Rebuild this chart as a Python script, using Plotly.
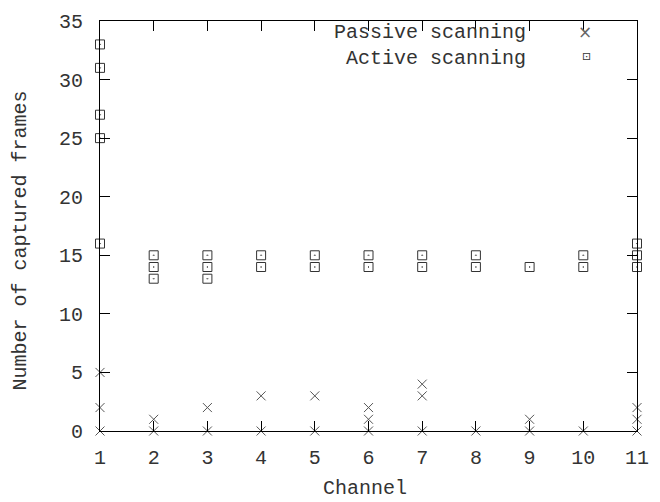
import plotly.graph_objects as go

# Frames captured per channel, one entry per observation
passive_channel = [1, 1, 1, 2, 2, 3, 3, 4, 4, 5, 5, 6, 6, 6, 7, 7, 7, 8, 9, 9, 10, 11, 11, 11]
passive_frames = [0, 2, 5, 0, 1, 0, 2, 0, 3, 0, 3, 0, 1, 2, 0, 3, 4, 0, 0, 1, 0, 0, 1, 2]

active_channel = [1, 1, 1, 1, 1, 2, 2, 2, 3, 3, 3, 4, 4, 5, 5, 6, 6, 7, 7, 8, 8, 9, 10, 10, 11, 11, 11]
active_frames = [16, 25, 27, 31, 33, 13, 14, 15, 13, 14, 15, 14, 15, 14, 15, 14, 15, 14, 15, 14, 15, 14, 14, 15, 14, 15, 16]

series_names = ["Passive scanning", "Active scanning"]

x_ticks = list(range(1, 12))
y_ticks = list(range(0, 36, 5))

FONT = "Liberation Mono"
FONT_SIZE = 20
TEXT_COLOR = "#333"

fig = go.Figure()

fig.add_trace(go.Scatter(
    x=passive_channel, y=passive_frames, mode="markers",
    name=series_names[0], showlegend=False, cliponaxis=False,
    marker=dict(symbol="x-thin-open", size=9, color="#555",
                line=dict(width=1, color="#555")),
))
fig.add_trace(go.Scatter(
    x=active_channel, y=active_frames, mode="markers",
    name=series_names[1], showlegend=False, cliponaxis=False,
    marker=dict(symbol="square-open-dot", size=9, color="#333",
                line=dict(width=1, color="#333")),
))

axis_common = dict(
    showgrid=False, zeroline=False, showline=True, linecolor="black",
    linewidth=1, mirror="ticks", ticks="inside", ticklen=10,
    tickcolor="black", tickwidth=1,
    tickfont=dict(family=FONT, size=FONT_SIZE, color=TEXT_COLOR),
)

fig.update_xaxes(range=[1, 11], tickvals=x_ticks, ticktext=[str(v) for v in x_ticks],
                 ticklabelstandoff=8, **axis_common)
fig.update_yaxes(range=[0, 35], tickvals=y_ticks, ticktext=[str(v) for v in y_ticks],
                 ticklabelstandoff=12, **axis_common)

# plot-area geometry in pixels, used to place the titles and key text
W, H = 660, 502
L, R, T, B = 100, 17, 11, 71
pw, ph = W - L - R, H - T - B


def px_x(x):
    return (x - L) / pw


def px_y(y):
    return (H - B - y) / ph


text_font = dict(family=FONT, size=FONT_SIZE, color=TEXT_COLOR)
annotations = [
    dict(text="Channel", x=px_x(368), y=px_y(490), xanchor="center", yanchor="middle"),
    dict(text="Number of captured frames", x=px_x(20), y=px_y(236), textangle=-90,
         xanchor="center", yanchor="middle"),
    # key: labels right-aligned, symbols to their right
    dict(text="<br>".join(series_names), x=px_x(533), y=px_y(36), align="right",
         xanchor="right", yanchor="middle"),
    dict(text="×", x=px_x(590), y=px_y(22), xanchor="center", yanchor="middle",
         font=dict(family="DejaVu Sans", size=17, color="#666")),
    dict(text="⊡", x=px_x(592), y=px_y(47), xanchor="center", yanchor="middle",
         font=dict(family="DejaVu Sans", size=11, color="#333")),
]
for a in annotations:
    a.update(xref="paper", yref="paper", showarrow=False)
    a.setdefault("font", text_font)

fig.update_layout(
    width=W, height=H,
    margin=dict(l=L, r=R, t=T, b=B),
    paper_bgcolor="white", plot_bgcolor="white",
    showlegend=False,
    annotations=annotations,
    font=text_font,
)

fig.write_html("out.html")
